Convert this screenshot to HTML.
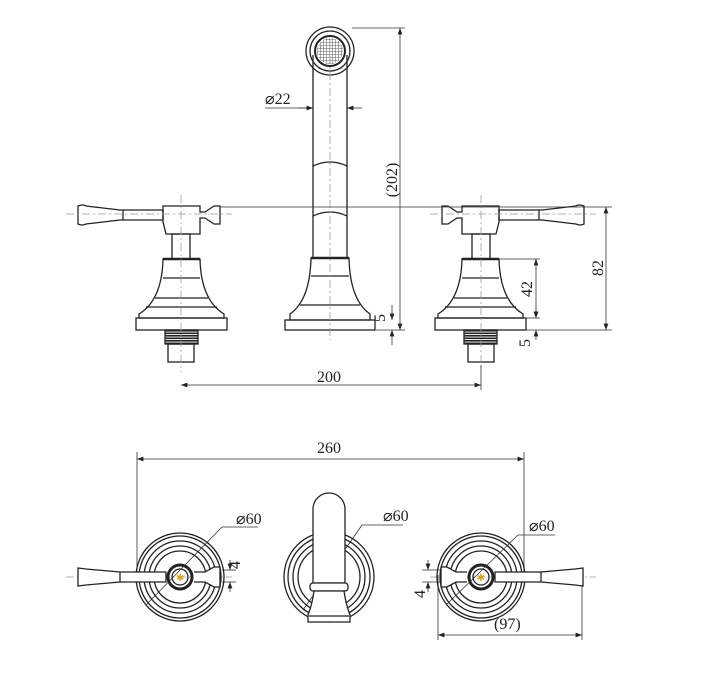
<!DOCTYPE html>
<html><head><meta charset="utf-8"><style>
html,body{margin:0;padding:0;background:#fff}
svg{display:block}
text{font-family:"Liberation Serif",serif;font-size:16px;fill:#222}
</style></head><body>
<svg width="711" height="696" viewBox="0 0 711 696" xmlns="http://www.w3.org/2000/svg">
<defs>
<pattern id="mesh" width="3" height="3" patternUnits="userSpaceOnUse"><path d="M0 0H3V3" fill="none" stroke="#333" stroke-width="0.8"/></pattern>
<pattern id="thr" width="33" height="2.5" patternUnits="userSpaceOnUse"><rect width="33" height="1.6" fill="#222"/></pattern>
<marker id="a" markerWidth="8" markerHeight="6" refX="8" refY="3" orient="auto-start-reverse"><path d="M0 0L8 3L0 6z" fill="#222"/></marker>
</defs>
<g stroke="#222" fill="none" stroke-width="1.3">
<g id="lv">
<path d="M78 206 Q84 204 86 206 L120 210 L163 210 L163 220 L120 220 L86 224 Q82 226 78 224 Z"/>
<line x1="123" y1="210" x2="123" y2="220"/>
<path d="M163 206 L200 206 L200 212 L205 212 L214 206 L220 206 L220 224 L214 224 L205 218 L200 218 L200 234 L166 234 L163 222 Z"/>
<rect x="172" y="234" width="18" height="25"/>
<path d="M163 259 L200 259 Q201 300 224 314 L224 318 L139 318 L139 314 Q162 300 163 259 Z"/>
<line x1="163" y1="259" x2="200" y2="259" stroke-width="2.5"/>
<line x1="163" y1="278" x2="200" y2="278"/><line x1="155" y1="298" x2="208" y2="298"/><line x1="146" y1="307" x2="217" y2="307"/>
<rect x="136" y="318" width="91" height="12"/>
<rect x="165" y="330" width="33" height="14" fill="url(#thr)"/>
<rect x="168" y="344" width="26" height="18"/>
</g>
<use href="#lv" transform="translate(662,0) scale(-1,1)"/>
<circle cx="330" cy="51" r="24"/><circle cx="330" cy="51" r="20"/><circle cx="330" cy="51" r="15" stroke-width="2"/>
<circle cx="330" cy="51" r="13" fill="url(#mesh)" stroke="none"/>
<path d="M313 55 L313 258 M347 55 L347 258"/>
<path d="M313 166 Q330 158 347 166 M313 216 Q330 208 347 216"/>
<path d="M311 258 L349 258 Q350 300 370 314 L370 320 L290 320 L290 314 Q310 300 311 258 Z"/>
<line x1="311" y1="258" x2="349" y2="258" stroke-width="2.5"/>
<line x1="311" y1="276" x2="349" y2="276"/><line x1="300" y1="305" x2="360" y2="305"/>
<rect x="285" y="320" width="90" height="10"/>
</g>
<g stroke="#999" stroke-dasharray="8 3 2 3" stroke-width="0.8">
<line x1="66" y1="214" x2="232" y2="214"/><line x1="430" y1="214" x2="596" y2="214"/>
<line x1="181" y1="195" x2="181" y2="372"/><line x1="481" y1="195" x2="481" y2="372"/>
<line x1="330" y1="40" x2="330" y2="340"/>
<line x1="66" y1="577" x2="232" y2="577"/><line x1="430" y1="577" x2="596" y2="577"/>
<line x1="329" y1="520" x2="329" y2="620"/>
</g>
<g stroke="#333" stroke-width="0.8" fill="none">
<line x1="352" y1="28" x2="405" y2="28"/><line x1="400" y1="28" x2="400" y2="330" marker-start="url(#a)" marker-end="url(#a)"/>
<line x1="376" y1="330" x2="405" y2="330"/>
<line x1="392" y1="305" x2="392" y2="320" marker-end="url(#a)"/><line x1="392" y1="345" x2="392" y2="330" marker-end="url(#a)"/>
<line x1="265" y1="108" x2="312" y2="108"/><line x1="298" y1="108" x2="313" y2="108" marker-end="url(#a)"/><line x1="362" y1="108" x2="347" y2="108" marker-end="url(#a)"/>
<line x1="181" y1="385" x2="481" y2="385" marker-start="url(#a)" marker-end="url(#a)"/>
<line x1="481" y1="365" x2="481" y2="390"/>
<line x1="220" y1="207" x2="612" y2="207"/><line x1="606" y1="207" x2="606" y2="330" marker-start="url(#a)" marker-end="url(#a)"/>
<line x1="524" y1="330" x2="612" y2="330"/><line x1="497" y1="259" x2="540" y2="259"/>
<line x1="536" y1="259" x2="536" y2="318" marker-start="url(#a)" marker-end="url(#a)"/><line x1="524" y1="318" x2="540" y2="318"/>
<line x1="536" y1="340" x2="536" y2="330" marker-end="url(#a)"/><line x1="536" y1="308" x2="536" y2="318" marker-end="url(#a)"/>
<line x1="137" y1="452" x2="137" y2="577"/><line x1="524" y1="452" x2="524" y2="577"/>
<line x1="137" y1="459" x2="524" y2="459" marker-start="url(#a)" marker-end="url(#a)"/>
<line x1="438" y1="575" x2="438" y2="640"/><line x1="582" y1="580" x2="582" y2="640"/>
<line x1="438" y1="635" x2="582" y2="635" marker-start="url(#a)" marker-end="url(#a)"/>
<polyline points="146,605 222,527 258,527"/><polyline points="303,610 362,525 403,525"/><polyline points="446,605 518,535 555,535"/>
<line x1="230" y1="560" x2="230" y2="570" marker-end="url(#a)"/><line x1="230" y1="592" x2="230" y2="582" marker-end="url(#a)"/>
<line x1="222" y1="570" x2="236" y2="570"/><line x1="222" y1="582" x2="236" y2="582"/>
<line x1="428" y1="560" x2="428" y2="570" marker-end="url(#a)"/><line x1="428" y1="592" x2="428" y2="582" marker-end="url(#a)"/>
<line x1="422" y1="570" x2="440" y2="570"/><line x1="422" y1="582" x2="440" y2="582"/>
</g>
<g stroke="#222" fill="none" stroke-width="1.3">
<g id="ros">
<circle cx="180" cy="577" r="44"/><circle cx="180" cy="577" r="41"/><circle cx="180" cy="577" r="36"/><circle cx="180" cy="577" r="31"/><circle cx="180" cy="577" r="26"/>
<circle cx="180" cy="577" r="12" stroke-width="3"/><circle cx="180" cy="577" r="8"/>
<path d="M78 568 L86 569 L120 572 L166 572 L166 582 L120 582 L86 585 L78 586 Z" fill="#fff"/>
<line x1="120" y1="572" x2="120" y2="582"/>
<path d="M194 572 L205 572 L214 567 L220 567 L220 587 L214 587 L205 582 L194 582" fill="#fff"/>
<text x="176" y="581" style="font-size:10px;fill:#d9a520" stroke="none">✱</text>
</g>
<use href="#ros" transform="translate(661,0) scale(-1,1)"/>
<circle cx="329" cy="577" r="45"/><circle cx="329" cy="577" r="41"/><circle cx="329" cy="577" r="36"/><circle cx="329" cy="577" r="31"/>
<path d="M313 583 L313 509 A16 16 0 0 1 345 509 L345 583 Z" fill="#fff"/>
<rect x="310" y="583" width="38" height="8" rx="3" fill="#fff"/>
<path d="M314 591 L344 591 Q346 605 350 615 L350 622 L308 622 L308 615 Q312 605 314 591 Z" fill="#fff"/>
<line x1="309" y1="616" x2="349" y2="616"/>
</g>
<g stroke="none">
<text x="265" y="104">⌀22</text>
<text x="317" y="382">200</text>
<text x="317" y="453">260</text>
<text x="236" y="524">⌀60</text>
<text x="383" y="521">⌀60</text>
<text x="529" y="531">⌀60</text>
<text x="494" y="629">(97)</text>
<text transform="translate(397,180) rotate(-90)" text-anchor="middle">(202)</text>
<text transform="translate(385,318) rotate(-90)" text-anchor="middle">5</text>
<text transform="translate(603,268) rotate(-90)" text-anchor="middle">82</text>
<text transform="translate(532,289) rotate(-90)" text-anchor="middle">42</text>
<text transform="translate(530,343) rotate(-90)" text-anchor="middle">5</text>
<text transform="translate(240,565) rotate(-90)" text-anchor="middle">4</text>
<text transform="translate(425,594) rotate(-90)" text-anchor="middle">4</text>
</g>
</svg>
</body></html>
